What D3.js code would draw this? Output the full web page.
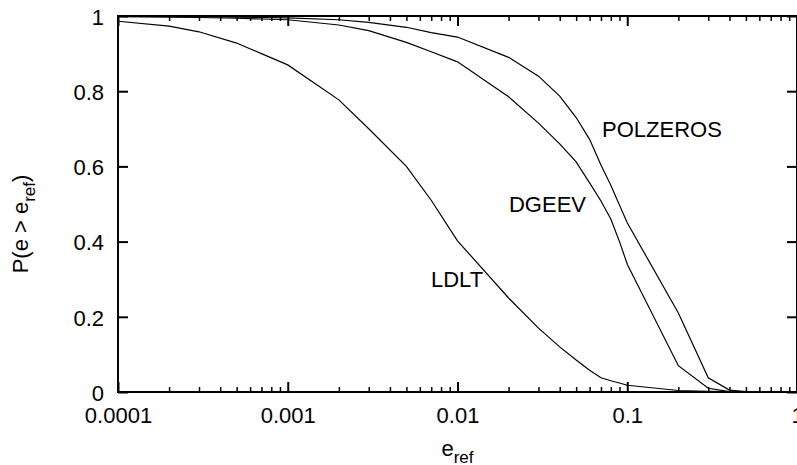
<!DOCTYPE html>
<html>
<head>
<meta charset="UTF-8">
<script src="https://d3js.org/d3.v7.min.js"></script>
<style>
  body { margin: 0; background: #fff; }
  text { font-family: Arial, "Liberation Sans", sans-serif; fill: #000; }
</style>
</head>
<body>
<svg id="chart" width="797" height="465"></svg>
<script>
// error thresholds (x) and the share of cases above each one
const eRef = [1e-4, 2e-4, 3e-4, 5e-4, 7e-4, 1e-3, 2e-3, 3e-3, 5e-3, 7e-3,
              0.01, 0.02, 0.03, 0.04, 0.05, 0.06, 0.07, 0.08, 0.09, 0.1,
              0.2, 0.3, 0.4, 0.5, 0.7, 1];
const ldlt = [0.986, 0.973, 0.958, 0.928, 0.900, 0.870, 0.777, 0.700, 0.600, 0.510,
              0.402, 0.250, 0.170, 0.120, 0.085, 0.058, 0.038, 0.030, 0.024, 0.018,
              0.004, 0.002, 0.001, 0, 0, 0];
const dgeev = [0.998, 0.997, 0.996, 0.994, 0.992, 0.990, 0.976, 0.961, 0.930, 0.905,
               0.878, 0.785, 0.715, 0.660, 0.612, 0.556, 0.508, 0.460, 0.400, 0.340,
               0.070, 0.010, 0.001, 0, 0, 0];
const polzeros = [0.999, 0.999, 0.998, 0.997, 0.996, 0.995, 0.990, 0.983, 0.970, 0.956,
                  0.944, 0.890, 0.840, 0.787, 0.730, 0.672, 0.604, 0.550, 0.497, 0.450,
                  0.210, 0.038, 0.005, 0.001, 0, 0];

const seriesNames = ["LDLT", "DGEEV", "POLZEROS"];
const seriesValues = [ldlt, dgeev, polzeros];
// where each curve's name sits (data coords, left/baseline of text)
const labelX = [0.00698, 0.0201, 0.071];
const labelY = [0.279, 0.479, 0.678];

const xTicks = [1e-4, 1e-3, 1e-2, 1e-1, 1];
const xTickLabels = ["0.0001", "0.001", "0.01", "0.1", "1"];
const yTicks = [0, 0.2, 0.4, 0.6, 0.8, 1];
const yTickLabels = ["0", "0.2", "0.4", "0.6", "0.8", "1"];

const W = 797, H = 465;
const m = { left: 118, right: 797, top: 16, bottom: 392 };

const svg = d3.select("#chart");

const x = d3.scaleLog().domain([1e-4, 1]).range([m.left, m.right]);
const y = d3.scaleLinear().domain([0, 1]).range([m.bottom, m.top]);

// minor ticks 2..9 per decade
const minor = [];
for (let e = -4; e < 0; e++)
  for (let k = 2; k <= 9; k++) minor.push(k * Math.pow(10, e));

function styleAxis(g, w) {
  g.select(".domain").remove();
  g.selectAll(".tick line").attr("stroke", "#000").attr("stroke-width", w);
  g.selectAll(".tick text").style("font-size", "22px");
}

// bottom
svg.append("g")
  .attr("transform", `translate(0,${m.bottom})`)
  .call(d3.axisBottom(x).tickValues(minor).tickFormat("").tickSizeInner(-5).tickSizeOuter(0))
  .call(g => styleAxis(g, 1.5));
svg.append("g")
  .attr("transform", `translate(0,${m.bottom})`)
  .call(d3.axisBottom(x).tickValues(xTicks).tickFormat((d, i) => xTickLabels[i])
    .tickSizeInner(-10).tickSizeOuter(0).tickPadding(15))
  .call(g => styleAxis(g, 2));

// top (mirror, no labels)
svg.append("g")
  .attr("transform", `translate(0,${m.top})`)
  .call(d3.axisTop(x).tickValues(minor).tickFormat("").tickSizeInner(-5).tickSizeOuter(0))
  .call(g => styleAxis(g, 1.5));
svg.append("g")
  .attr("transform", `translate(0,${m.top})`)
  .call(d3.axisTop(x).tickValues(xTicks).tickFormat("").tickSizeInner(-10).tickSizeOuter(0))
  .call(g => styleAxis(g, 2));

// left
svg.append("g")
  .attr("transform", `translate(${m.left},0)`)
  .call(d3.axisLeft(y).tickValues(yTicks).tickFormat((d, i) => yTickLabels[i])
    .tickSizeInner(-10).tickSizeOuter(0).tickPadding(14))
  .call(g => styleAxis(g, 2))
  .call(g => g.selectAll(".tick text").attr("dy", "0.38em"));

// right (mirror)
svg.append("g")
  .attr("transform", `translate(${m.right},0)`)
  .call(d3.axisRight(y).tickValues(yTicks).tickFormat("").tickSizeInner(-10).tickSizeOuter(0))
  .call(g => styleAxis(g, 2));

// frame
svg.append("rect")
  .attr("x", m.left).attr("y", m.top)
  .attr("width", m.right - m.left).attr("height", m.bottom - m.top)
  .attr("fill", "none").attr("stroke", "#000").attr("stroke-width", 2);

// curves
const line = d3.line()
  .x(d => x(d[0]))
  .y(d => y(d[1]));

seriesValues.forEach(vals => {
  svg.append("path")
    .datum(eRef.map((e, i) => [e, vals[i]]))
    .attr("fill", "none")
    .attr("stroke", "#000")
    .attr("stroke-width", 1.2)
    .attr("d", line);
});

// curve names
seriesNames.forEach((name, i) => {
  svg.append("text")
    .attr("x", x(labelX[i]))
    .attr("y", y(labelY[i]))
    .style("font-size", "22px")
    .text(name);
});

// axis titles
const xt = svg.append("text")
  .attr("x", (m.left + m.right) / 2)
  .attr("y", 456)
  .attr("text-anchor", "middle")
  .style("font-size", "22px");
xt.append("tspan").text("e");
xt.append("tspan").attr("dy", 7).style("font-size", "17px").text("ref");

const yt = svg.append("text")
  .attr("transform", `translate(28,${(m.top + m.bottom) / 2 + 20}) rotate(-90)`)
  .attr("text-anchor", "middle")
  .style("font-size", "22px");
yt.append("tspan").text("P(e > e");
yt.append("tspan").attr("dy", 7).style("font-size", "17px").text("ref");
yt.append("tspan").attr("dy", -7).text(")");
</script>
</body>
</html>
